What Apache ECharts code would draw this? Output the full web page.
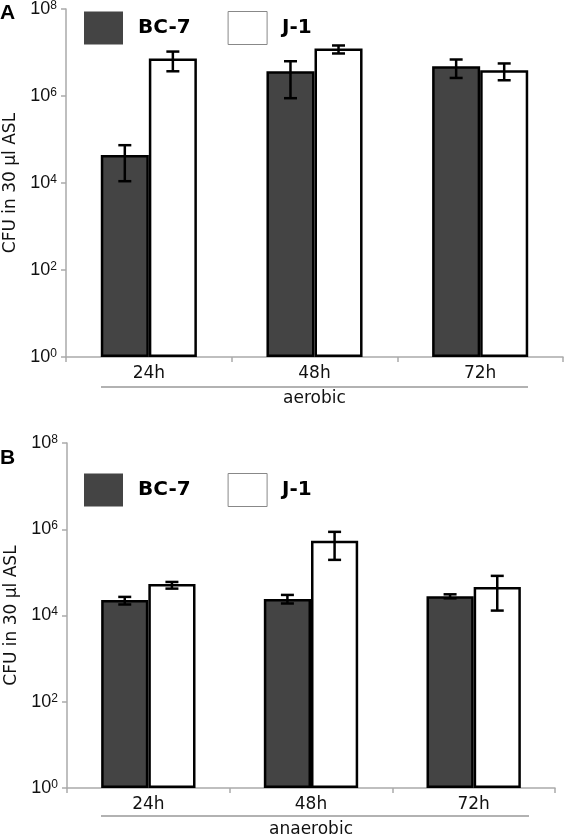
<!DOCTYPE html>
<html>
<head>
<meta charset="utf-8">
<script src="https://cdn.jsdelivr.net/npm/echarts@6/dist/echarts.min.js"></script>
<style>
html,body{margin:0;padding:0;background:#fff;}
#chart{width:566px;height:835px;}
</style>
</head>
<body>
<div id="chart"></div>
<script>
// ---- data ----
var categories = ['24h', '48h', '72h'];
var seriesNames = ['BC-7', 'J-1'];
var yTicks = [1, 1e2, 1e4, 1e6, 1e8];

// Panel A (aerobic)
var aerobicBC7 = [4.4e4, 3.7e6, 4.8e6];
var aerobicJ1  = [7.3e6, 1.24e7, 3.9e6];
var aerobicBC7Err = [[1.1e4, 7.4e4], [8.9e5, 6.3e6], [2.6e6, 6.9e6]];
var aerobicJ1Err  = [[3.7e6, 1.05e7], [9.5e6, 1.45e7], [2.3e6, 5.6e6]];

// Panel B (anaerobic)
var anaerobicBC7 = [2.3e4, 2.4e4, 2.8e4];
var anaerobicJ1  = [5.4e4, 5.4e5, 4.6e4];
var anaerobicBC7Err = [[1.8e4, 2.7e4], [1.9e4, 3.0e4], [2.5e4, 3.1e4]];
var anaerobicJ1Err  = [[4.2e4, 6.0e4], [1.95e5, 8.7e5], [1.3e4, 8.3e4]];

var groupLabels = ['aerobic', 'anaerobic'];
var panelLabels = ['A', 'B'];

// ---- styling ----
var BAR_FRAC = 0.29;
var DARK = '#444444';

function errData(arr) {
  return arr.map(function (e, i) { return [i, e[0], e[1]]; });
}
function errRender(sign) {
  return function (params, api) {
    var xi = api.value(0);
    var lo = api.coord([xi, api.value(1)]);
    var hi = api.coord([xi, api.value(2)]);
    var band = api.size([1, 0])[0];
    var bw = band * BAR_FRAC;
    var x = lo[0] + sign * bw / 2;
    var cap = 6.5;
    var st = { stroke: '#000', lineWidth: 2.5 };
    return {
      type: 'group',
      children: [
        { type: 'line', shape: { x1: x, y1: hi[1], x2: x, y2: lo[1] }, style: st },
        { type: 'line', shape: { x1: x - cap, y1: hi[1], x2: x + cap, y2: hi[1] }, style: st },
        { type: 'line', shape: { x1: x - cap, y1: lo[1], x2: x + cap, y2: lo[1] }, style: st }
      ]
    };
  };
}

function yAxisCfg(gi) {
  return {
    type: 'log', logBase: 10, gridIndex: gi,
    min: yTicks[0], max: yTicks[yTicks.length - 1], interval: 2,
    name: 'CFU in 30 \u00b5l ASL', nameLocation: 'middle', nameGap: 47,
    nameTextStyle: { fontFamily: 'DejaVu Sans', fontSize: 17, color: '#111' },
    axisLine: { show: true, lineStyle: { color: '#aaa', width: 1.5 } },
    axisTick: { show: true, length: 5, lineStyle: { color: '#aaa', width: 1.5 } },
    splitLine: { show: false },
    axisLabel: {
      margin: 9, fontSize: 18, fontFamily: 'Liberation Sans', color: '#111',
      formatter: function (v) {
        var e = Math.round(Math.log(v) / Math.LN10);
        return '{base|10}{sup|' + e + '}';
      },
      rich: {
        base: { fontSize: 18, fontFamily: 'Liberation Sans', color: '#111' },
        sup: { fontSize: 12, fontFamily: 'Liberation Sans', color: '#111', padding: [0, 0, 7, 0] }
      }
    }
  };
}
function xAxisCfg(gi, name) {
  return {
    type: 'category', gridIndex: gi, data: categories,
    name: name, nameLocation: 'middle', nameGap: 33,
    nameTextStyle: { fontFamily: 'DejaVu Sans', fontSize: 17, color: '#111' },
    axisLine: { show: true, lineStyle: { color: '#aaa', width: 1.5 } },
    axisTick: { show: true, length: 5, alignWithLabel: false, lineStyle: { color: '#aaa', width: 1.5 } },
    axisLabel: { margin: 8, fontFamily: 'DejaVu Sans', fontSize: 17, color: '#111' }
  };
}
function barSeries(gi, name, data, fill) {
  return {
    type: 'bar', name: name, xAxisIndex: gi, yAxisIndex: gi,
    data: data, barWidth: (BAR_FRAC * 100) + '%', barGap: '0%',
    itemStyle: { color: fill, borderColor: '#000', borderWidth: 2.5 },
    emphasis: { disabled: true }
  };
}
function errSeries(gi, data, sign) {
  return {
    type: 'custom', xAxisIndex: gi, yAxisIndex: gi, z: 5,
    data: errData(data), renderItem: errRender(sign),
    encode: { x: 0, y: [1, 2] }, silent: true
  };
}
function legendCfg(top) {
  return {
    left: 84, top: top, padding: 0, itemWidth: 39, itemHeight: 33, itemGap: 37,
    icon: 'rect', selectedMode: false,
    textStyle: { fontFamily: 'DejaVu Sans', fontWeight: 'bold', fontSize: 20, color: '#000', padding: [5, 0, 0, 10] },
    data: [
      { name: seriesNames[0], itemStyle: { color: DARK, borderWidth: 0 } },
      { name: seriesNames[1], itemStyle: { color: '#fff', borderColor: '#888', borderWidth: 1 } }
    ]
  };
}

var chart = echarts.init(document.getElementById('chart'), null, { renderer: 'canvas' });
chart.setOption({
  backgroundColor: '#fff',
  animation: false,
  title: [
    { text: panelLabels[0], left: 0, top: 3, padding: 0, textStyle: { fontFamily: 'Liberation Sans', fontWeight: 'bold', fontSize: 21, color: '#000' } },
    { text: panelLabels[1], left: 0, top: 448, padding: 0, textStyle: { fontFamily: 'Liberation Sans', fontWeight: 'bold', fontSize: 21, color: '#000' } }
  ],
  legend: [legendCfg(11), legendCfg(473)],
  grid: [
    { left: 66, top: 9, right: 3, bottom: 835 - 357, containLabel: false, outerBoundsMode: 'none' },
    { left: 67, top: 443, right: 11, bottom: 835 - 788, containLabel: false, outerBoundsMode: 'none' }
  ],
  xAxis: [xAxisCfg(0, groupLabels[0]), xAxisCfg(1, groupLabels[1])],
  yAxis: [yAxisCfg(0), yAxisCfg(1)],
  graphic: [
    { type: 'line', shape: { x1: 101, y1: 387, x2: 528, y2: 387 }, style: { stroke: '#999', lineWidth: 1.5 } },
    { type: 'line', shape: { x1: 101, y1: 816, x2: 529, y2: 816 }, style: { stroke: '#999', lineWidth: 1.5 } }
  ],
  series: [
    barSeries(0, seriesNames[0], aerobicBC7, DARK),
    barSeries(0, seriesNames[1], aerobicJ1, '#fff'),
    errSeries(0, aerobicBC7Err, -1),
    errSeries(0, aerobicJ1Err, 1),
    barSeries(1, seriesNames[0], anaerobicBC7, DARK),
    barSeries(1, seriesNames[1], anaerobicJ1, '#fff'),
    errSeries(1, anaerobicBC7Err, -1),
    errSeries(1, anaerobicJ1Err, 1)
  ]
});
</script>
</body>
</html>
